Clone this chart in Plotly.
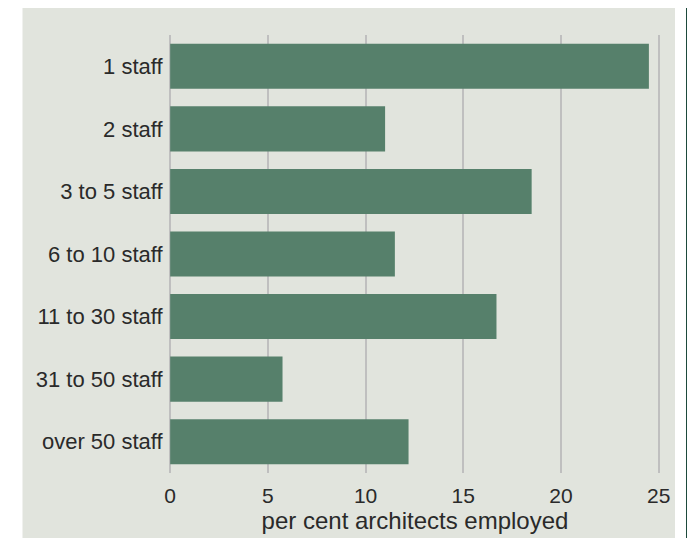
import plotly.graph_objects as go

categories = ["1 staff", "2 staff", "3 to 5 staff", "6 to 10 staff",
              "11 to 30 staff", "31 to 50 staff", "over 50 staff"]
percent_employed = [24.5, 11.0, 18.5, 11.5, 16.7, 5.75, 12.2]
x_ticks = [0, 5, 10, 15, 20, 25]
x_title = "per cent architects employed"

# the page body has an 8px margin, so the figure is laid out 8px smaller
OFF = 8
W, H = 695 - OFF, 538 - OFF
ML, MR, MT, MB = 169 - OFF, 34, 35 - OFF, 63
pw = W - ML - MR
ph = H - MT - MB

def px_x(p):
    return (p - OFF - ML) / pw

def px_y(p):
    return (H - MB - (p - OFF)) / ph

fig = go.Figure(go.Bar(
    x=percent_employed, y=categories, orientation="h",
    marker=dict(color="#56806b", line=dict(width=0)),
    width=0.72,
))

fig.add_shape(type="rect", xref="paper", yref="paper",
              x0=px_x(22.5), x1=px_x(675), y0=px_y(545), y1=px_y(7),
              fillcolor="#e1e4dd", line=dict(width=0), layer="below")
fig.add_shape(type="rect", xref="paper", yref="paper",
              x0=px_x(686), x1=px_x(688.5), y0=px_y(545), y1=px_y(0),
              fillcolor="#1d4a3b", line=dict(width=0), layer="above")

fig.update_layout(
    width=W, height=H,
    margin=dict(l=ML, r=MR, t=MT, b=MB, pad=0),
    paper_bgcolor="white", plot_bgcolor="rgba(0,0,0,0)",
    font=dict(family="Liberation Sans, Arial, sans-serif", size=21, color="#2a2a2a"),
    showlegend=False,
    xaxis=dict(range=[-0.06, 25.12], tickvals=x_ticks, ticktext=[str(t) for t in x_ticks],
               showgrid=True, gridcolor="#bfbfbf", gridwidth=2, zeroline=False,
               showline=False, ticks="outside", ticklen=4, tickcolor="rgba(0,0,0,0)",
               tickfont=dict(size=21),
               title=dict(text=x_title, standoff=2, font=dict(size=24)),
               fixedrange=True),
    yaxis=dict(categoryorder="array", categoryarray=categories, autorange=False,
               range=[6.5, -0.5], showgrid=False, zeroline=False, showline=False,
               ticks="outside", ticklen=1, tickcolor="rgba(0,0,0,0)",
               tickfont=dict(size=22), fixedrange=True),
)

fig.write_html("out.html")
